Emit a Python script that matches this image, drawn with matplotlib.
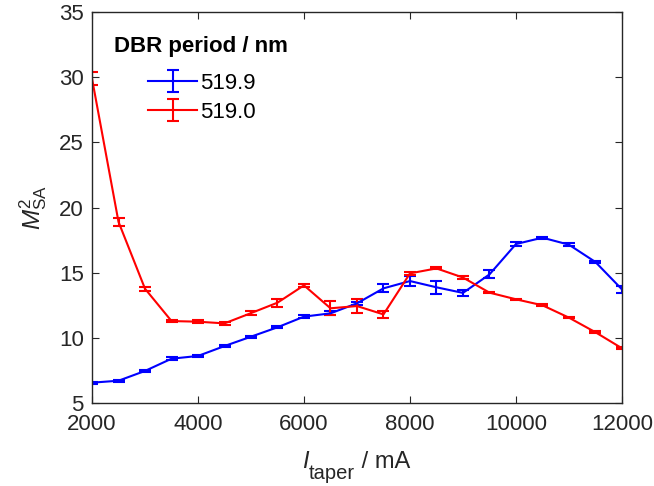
import matplotlib
matplotlib.use("Agg")
import matplotlib.pyplot as plt
import numpy as np

plt.rcParams['font.family'] = ['Liberation Sans', 'DejaVu Sans']
plt.rcParams['mathtext.fontset'] = 'custom'
plt.rcParams['mathtext.rm'] = 'Liberation Sans'
plt.rcParams['mathtext.it'] = 'Liberation Sans:italic'
plt.rcParams['mathtext.bf'] = 'Liberation Sans:bold'

# Taper current in mA
current = [2000, 2500, 3000, 3500, 4000, 4500, 5000, 5500, 6000, 6500, 7000,
           7500, 8000, 8500, 9000, 9500, 10000, 10500, 11000, 11500, 12000]

# Beam quality M^2 (slow axis) for DBR period 519.9 nm
m2_519_9 = [6.56, 6.71, 7.46, 8.40, 8.61, 9.37, 10.09, 10.81, 11.63, 11.88, 12.65,
            13.80, 14.36, 13.88, 13.45, 14.87, 17.20, 17.69, 17.15, 15.82, 13.72]
err_519_9 = [0.08, 0.08, 0.1, 0.1, 0.08, 0.08, 0.08, 0.08, 0.1, 0.15, 0.12,
             0.3, 0.38, 0.5, 0.2, 0.3, 0.12, 0.08, 0.12, 0.1, 0.25]

# Beam quality M^2 for DBR period 519.0 nm
m2_519_0 = [29.9, 18.9, 13.77, 11.29, 11.24, 11.11, 11.90, 12.70, 14.03, 12.27, 12.44,
            11.80, 14.95, 15.33, 14.63, 13.47, 12.96, 12.50, 11.55, 10.43, 9.20]
err_519_0 = [0.5, 0.3, 0.15, 0.1, 0.1, 0.12, 0.15, 0.3, 0.12, 0.55, 0.55,
             0.25, 0.12, 0.08, 0.1, 0.06, 0.06, 0.06, 0.06, 0.06, 0.08]

labels = ['519.9', '519.0']
colors = ['#0000ff', '#ff0000']
legend_title = 'DBR period / nm'

fig = plt.figure(figsize=(6.54, 4.86), dpi=100)
ax = fig.add_axes([0.1407, 0.1708, 0.8103, 0.8042])

for y, e, lab, c in zip([m2_519_9, m2_519_0], [err_519_9, err_519_0], labels, colors):
    ax.errorbar(current, y, yerr=e, color=c, lw=1.5, elinewidth=1.5,
                capsize=4, capthick=1.5, label=lab)

ax.set_xlim(2000, 12000)
ax.set_ylim(5, 35)
ax.set_xticks(np.arange(2000, 12001, 2000))
ax.set_yticks(np.arange(5, 36, 5))

axcol = '#262626'
for s in ax.spines.values():
    s.set_color(axcol)
    s.set_linewidth(1.0)
ax.tick_params(direction='in', length=5, width=0.8, colors=axcol,
               labelsize=16, top=True, right=True)
ax.tick_params(axis='x', pad=8)
ax.tick_params(axis='y', pad=6)

# x label built from pieces so the subscript keeps a larger size
lab_i = ax.text(0.396, -0.166, 'I', transform=ax.transAxes, fontsize=17,
                style='italic', color=axcol, ha='left', va='baseline')
lab_sub = ax.annotate('taper', xy=(1, 0), xycoords=lab_i, xytext=(0.5, -4.3),
                      textcoords='offset points', fontsize=14.5, color=axcol,
                      ha='left', va='baseline', annotation_clip=False)
ax.annotate(' / mA', xy=(1, 0), xycoords=lab_sub, xytext=(0, 10.9),
            textcoords='offset points', fontsize=17, color=axcol,
            ha='left', va='baseline', annotation_clip=False)

ax.set_ylabel(r'$M^2_{\mathrm{SA}}$', fontsize=17.5, color=axcol, labelpad=7)

# legend title drawn separately so the entries sit indented beneath it
ax.text(0.042, 0.8977, legend_title, transform=ax.transAxes, fontsize=16,
        fontweight='bold', color='k', ha='left', va='baseline')
ax.legend(loc='upper left', bbox_to_anchor=(0.106, 0.844), frameon=False,
          fontsize=16, borderpad=0, borderaxespad=0,
          handlelength=2.2, handletextpad=0.15, labelspacing=0.36)

fig.savefig('out.png', dpi=100)
